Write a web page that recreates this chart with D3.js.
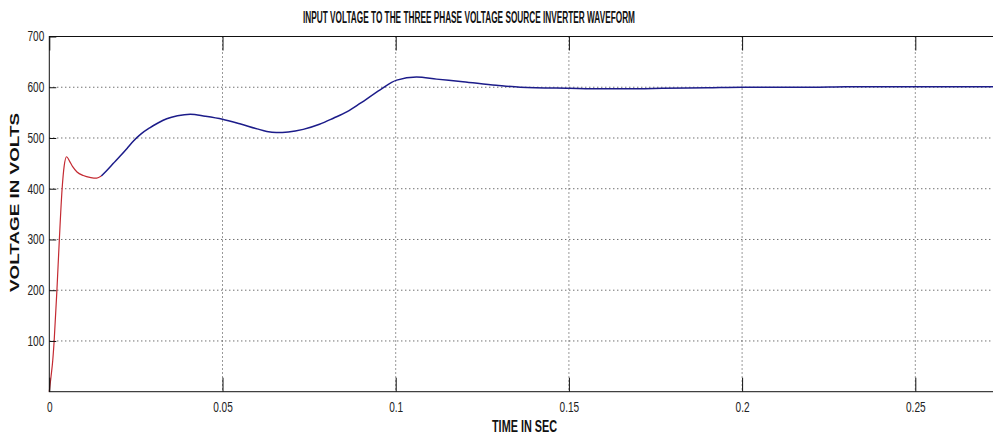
<!DOCTYPE html>
<html>
<head>
<meta charset="utf-8">
<script src="https://cdn.jsdelivr.net/npm/d3@7"></script>
<style>
  html, body { margin: 0; padding: 0; background: #fff; overflow: hidden; }
  svg { display: block; }
</style>
</head>
<body>
<svg id="chart" width="993" height="436"></svg>
<script>
// ---- data ----
const titleText = "INPUT VOLTAGE TO THE THREE PHASE VOLTAGE SOURCE INVERTER WAVEFORM";
const xLabelText = "TIME IN SEC";
const yLabelText = "VOLTAGE IN VOLTS";
const xTicks = [0, 0.05, 0.1, 0.15, 0.2, 0.25];
const xTickLabels = ["0", "0.05", "0.1", "0.15", "0.2", "0.25"];
const yTicks = [100, 200, 300, 400, 500, 600, 700];
const yTickLabels = ["100", "200", "300", "400", "500", "600", "700"];

// start-up segment (red)
const redTime = [0, 0.0005, 0.001, 0.0014, 0.0022, 0.0029, 0.0037, 0.0043, 0.005, 0.0058, 0.0068, 0.008, 0.0098, 0.012, 0.0137, 0.015];
const redVolt = [0, 30, 62, 100, 200, 300, 400, 445, 463, 455, 443, 433, 426, 422, 421, 425];

// remaining waveform (blue)
const blueTime = [0.015, 0.0166, 0.0185, 0.0204, 0.0225, 0.0243, 0.0265, 0.029, 0.0315, 0.0339, 0.037, 0.0407, 0.045, 0.05, 0.055, 0.06, 0.0628, 0.0655, 0.069, 0.0733, 0.078, 0.082, 0.086, 0.0897, 0.0955, 0.1003, 0.106, 0.1118, 0.1194, 0.129, 0.136, 0.15, 0.16, 0.17, 0.177, 0.19, 0.2, 0.21, 0.22, 0.23, 0.24, 0.25, 0.26, 0.275];
const blueVolt = [425, 436, 450, 464, 480, 494, 508, 520, 530, 538, 544, 547, 543, 537, 528, 518, 513, 511, 512, 517, 527, 539, 552, 568, 595, 614, 620, 616, 611, 604, 600, 598, 597, 597, 598, 599, 600, 600, 600, 601, 601, 601, 601, 601];

// ---- layout ----
const svg = d3.select("#chart");
const plotLeft = 49.3, plotTop = 36.5, plotBottom = 391.7;
const xScale = d3.scaleLinear().domain([0, 0.28]).range([plotLeft, plotLeft + 3464 * 0.28]);
const yScale = d3.scaleLinear().domain([0, 700]).range([plotBottom, plotTop]);
const plotRight = xScale.range()[1];

const g = svg.append("g");

// grid
g.append("g").selectAll("line").data(xTicks.filter(d => d > 0)).join("line")
  .attr("x1", d => xScale(d)).attr("x2", d => xScale(d))
  .attr("y1", plotTop).attr("y2", plotBottom)
  .attr("stroke", "#333").attr("stroke-width", 1).attr("stroke-dasharray", "1,3");
g.append("g").selectAll("line").data(yTicks.filter(d => d < 700)).join("line")
  .attr("x1", plotLeft).attr("x2", plotRight)
  .attr("y1", d => yScale(d)).attr("y2", d => yScale(d))
  .attr("stroke", "#333").attr("stroke-width", 1).attr("stroke-dasharray", "1,3");

// curves
const line = d3.line().x(d => xScale(d[0])).y(d => yScale(d[1])).curve(d3.curveMonotoneX);
g.append("path").datum(blueTime.map((t, i) => [t, blueVolt[i]]))
  .attr("d", line).attr("fill", "none").attr("stroke", "#1c1c8a").attr("stroke-width", 1.5);
g.append("path").datum(redTime.map((t, i) => [t, redVolt[i]]))
  .attr("d", line).attr("fill", "none").attr("stroke", "#c42a32").attr("stroke-width", 1.2);

// frame
g.append("rect").attr("x", plotLeft).attr("y", plotTop).attr("width", plotRight - plotLeft).attr("height", plotBottom - plotTop)
  .attr("fill", "none").attr("stroke", "#111").attr("stroke-width", 1);

const fontFam = "'Liberation Sans', Arial, sans-serif";

// axes
const xAxis = d3.axisBottom(xScale).tickValues(xTicks).tickFormat((d, i) => xTickLabels[i])
  .tickSizeInner(-14).tickSizeOuter(0).tickPadding(10);
const xg = g.append("g").attr("transform", `translate(0,${plotBottom})`).call(xAxis);
const xTop = d3.axisTop(xScale).tickValues(xTicks).tickFormat("").tickSizeInner(-14).tickSizeOuter(0);
const xtg = g.append("g").attr("transform", `translate(0,${plotTop})`).call(xTop);
const yAxis = d3.axisLeft(yScale).tickValues(yTicks).tickFormat((d, i) => yTickLabels[i])
  .tickSizeInner(-7).tickSizeOuter(0).tickPadding(5);
const yg = g.append("g").attr("transform", `translate(${plotLeft},0)`).call(yAxis);

[xg, xtg, yg].forEach(a => {
  a.select(".domain").remove();
  a.selectAll(".tick line").attr("stroke", "#111");
  a.selectAll("text").attr("font-family", fontFam).attr("font-size", 14).attr("fill", "#222");
});
[xg, yg].forEach(a => {
  a.selectAll(".tick text").each(function () {
    const len = this.getComputedTextLength();
    d3.select(this).attr("textLength", len * 0.72).attr("lengthAdjust", "spacingAndGlyphs");
  });
});

// title
svg.append("text").attr("x", 303).attr("y", 23.3)
  .attr("font-family", fontFam).attr("font-size", 16).attr("font-weight", "bold").attr("fill", "#111")
  .attr("textLength", 332).attr("lengthAdjust", "spacingAndGlyphs")
  .text(titleText);

// x label
svg.append("text").attr("x", 492).attr("y", 431.5)
  .attr("font-family", fontFam).attr("font-size", 16).attr("font-weight", "bold").attr("fill", "#111")
  .attr("textLength", 65).attr("lengthAdjust", "spacingAndGlyphs")
  .text(xLabelText);

// y label
svg.append("text").attr("transform", "translate(18.5,202.5) rotate(-90)")
  .attr("text-anchor", "middle")
  .attr("font-family", fontFam).attr("font-size", 12).attr("font-weight", "bold").attr("fill", "#111")
  .attr("textLength", 179).attr("lengthAdjust", "spacingAndGlyphs")
  .text(yLabelText);
</script>
</body>
</html>
